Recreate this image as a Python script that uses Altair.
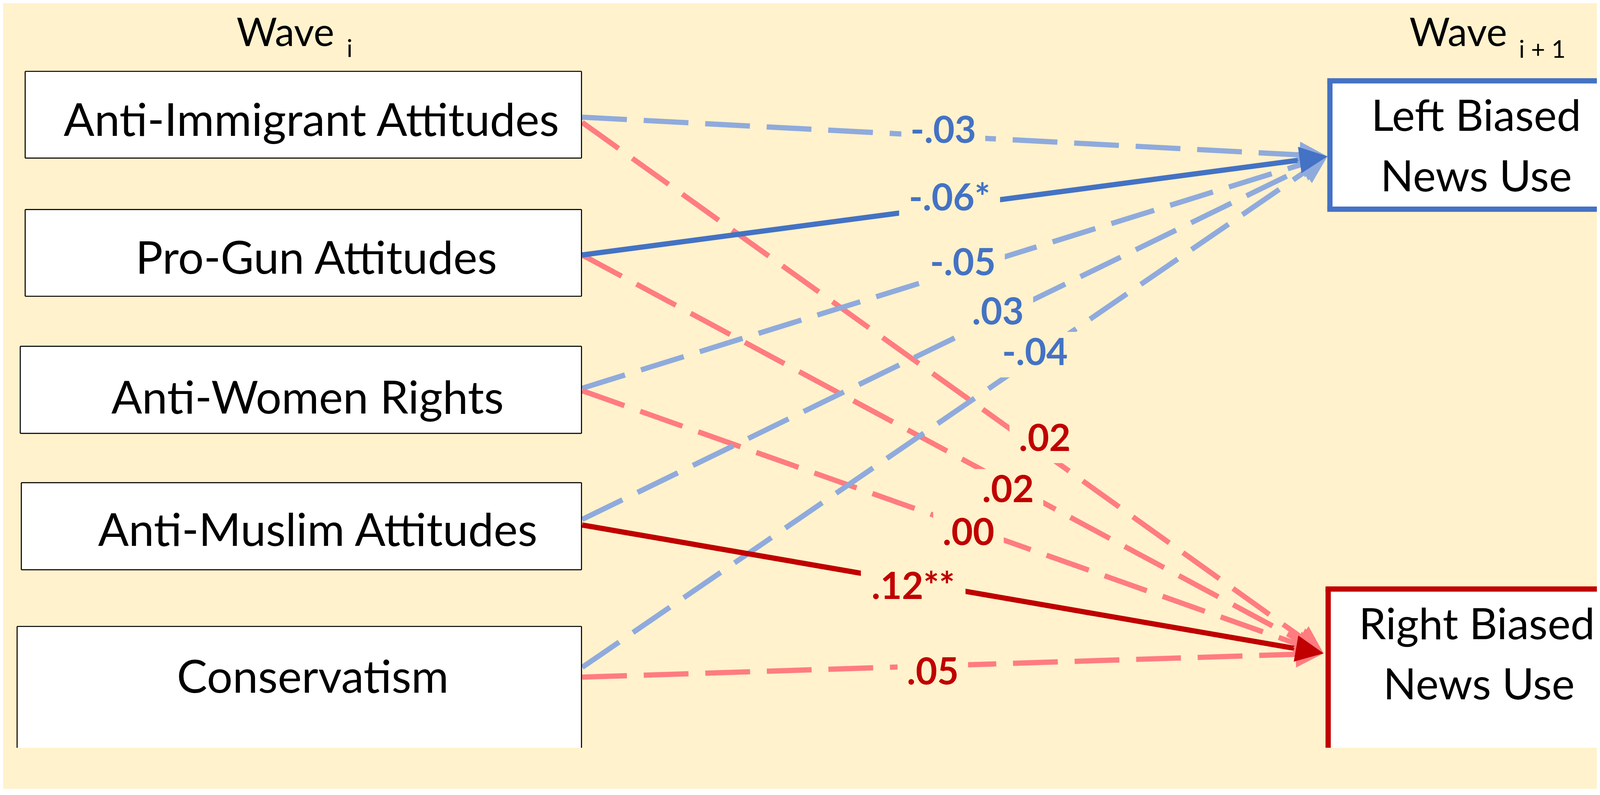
import math
import altair as alt
import pandas as pd

# ---------------- data ----------------
sources = ["Anti-Immigrant Attitudes", "Pro-Gun Attitudes", "Anti-Women Rights",
           "Anti-Muslim Attitudes", "Conservatism"]
target_lines = [["Left Biased", "News Use"], ["Right Biased", "News Use"]]
coef_to_left = ["-.03", "-.06*", "-.05", ".03", "-.04"]
coef_to_right = [".02", ".02", ".00", ".12**", ".05"]
wave_main = ["Wave", "Wave"]
wave_sub = ["i", "i + 1"]

# ---------------- layout (reference pixel coordinates) ----------------
W, H = 4555, 2012
Y0 = 130                      # top of the drawing area in layout coordinates
XMAX, YMAX = 8 + W, Y0 + H
BOTTOM = YMAX                 # boxes that run off the page continue to the bottom
src_box_x1 = [71, 71, 57, 60, 48]
src_box_x2 = 1661
src_box_y1 = [208, 603, 994, 1384, 1795]
src_box_y2 = [456, 851, 1243, 1633, None]      # last box runs off the bottom
src_text_x = [889, 903, 878, 907, 893]
src_text_base = [392, 787, 1186, 1565, 1985]
edge_x0 = 1663
anchor_left = [339, 733, 1114, 1489, 1912]
anchor_right = [354, 733, 1121, 1505, 1940]
tips = [(3793, 451), (3782, 1872)]
tgt_box = [(3800, 235, 602), (3795, 1688, None)]   # left, top, bottom (runs off right edge)
tgt_text = [[(4218, 378), (4218, 551)], [(4220, 1832), (4226, 2004)]]
lab_left = [(2695, 375), (2713, 568), (2751, 753), (2851, 894), (2957, 1010)]
lab_right = [(2985, 1255), (2880, 1402), (2767, 1525), (2609, 1679), (2665, 1923)]

BG = "#FFF2CC"
BLUE, BLUE_L = "#4472C4", "#8FAADC"
RED, RED_L = "#C00000", "#FF7C80"
FONT = "Lato"
LAB_FS = 106
NODE_FS = 130
TGT_FS = 124
char_w = {"-": 0.36, ".": 0.27, "*": 0.46}

def text_w(s):
    return sum(char_w.get(ch, 0.58) for ch in s) * LAB_FS

rows = []
for i in range(len(sources)):
    for j, (coefs, anchors, labs) in enumerate(
            [(coef_to_left, anchor_left, lab_left), (coef_to_right, anchor_right, lab_right)]):
        c = coefs[i]
        sig = "*" in c
        x1, y1 = edge_x0, anchors[i]
        tx, ty = tips[j]
        dx, dy = tx - x1, ty - y1
        L = math.hypot(dx, dy)
        ux, uy = dx / L, dy / L
        lx, ly = labs[i]
        w = text_w(c) + 50
        if j == 0:
            col = BLUE if sig else BLUE_L
            tcol = BLUE
        else:
            col = RED if sig else RED_L
            tcol = RED
        rows.append(dict(x=x1, y=y1, x2=tx - 40 * ux, y2=ty - 40 * uy, tipx=tx, tipy=ty,
                         ang=(math.degrees(math.atan2(dy, dx)) + 360) % 360,
                         col=col, tcol=tcol, sig=int(sig), label=c,
                         lx=lx, ly=ly + 38, mx1=lx - w / 2, mx2=lx + w / 2,
                         my1=ly - 57, my2=ly + 73))
edges = pd.DataFrame(rows).sort_values("sig", kind="stable").reset_index(drop=True)

fills, borders = [], []
for i in range(len(sources)):
    x1, x2, y1 = src_box_x1[i], src_box_x2, src_box_y1[i]
    y2 = src_box_y2[i] if src_box_y2[i] is not None else BOTTOM
    fills.append(dict(x1=x1, x2=x2, y1=y1, y2=y2))
    segs = [(x1, y1, x2, y1), (x1, y1, x1, y2), (x2, y1, x2, y2)]
    if src_box_y2[i] is not None:
        segs.append((x1, y2, x2, y2))
    for s in segs:
        borders.append(dict(x1=s[0], y1=s[1], x2=s[2], y2=s[3], col="black", w=3))
for k, (bx, by1, by2) in enumerate(tgt_box):
    col = BLUE if k == 0 else RED
    y2 = by2 if by2 is not None else BOTTOM
    fills.append(dict(x1=bx, x2=XMAX, y1=by1, y2=y2))
    segs = [(bx - 7.5, by1, XMAX, by1), (bx, by1, bx, y2)]
    if by2 is not None:
        segs.append((bx - 7.5, by2, XMAX, by2))
    for s in segs:
        borders.append(dict(x1=s[0], y1=s[1], x2=s[2], y2=s[3], col=col, w=15))
fill_df = pd.DataFrame(fills)
border_df = pd.DataFrame(borders)

src_df = pd.DataFrame(dict(name=sources, tx=src_text_x, ty=src_text_base))
tgt_txt = pd.DataFrame([dict(t=target_lines[k][m], x=tgt_text[k][m][0], y=tgt_text[k][m][1])
                        for k in range(2) for m in range(2)])
wave_df = pd.DataFrame([
    dict(t=wave_main[0], x=675, y=136, fs=112),
    dict(t=wave_sub[0], x=990, y=167, fs=70),
    dict(t=wave_main[1], x=4027, y=136, fs=112),
    dict(t=wave_sub[1], x=4340, y=169, fs=70),
])

xs = alt.Scale(domain=[8, XMAX], nice=False, zero=False)
ys = alt.Scale(domain=[Y0, YMAX], nice=False, zero=False, reverse=True)

def X(f):
    return alt.X(f, type="quantitative", scale=xs, axis=None)

def Y(f):
    return alt.Y(f, type="quantitative", scale=ys, axis=None)

base_e = alt.Chart(edges)

dashed = base_e.transform_filter("datum.sig == 0").mark_rule(
    strokeWidth=15, strokeDash=[128, 48], strokeCap="butt").encode(
    x=X("x"), y=Y("y"), x2="x2:Q", y2="y2:Q", color=alt.Color("col:N", scale=None))
solid = base_e.transform_filter("datum.sig == 1").mark_rule(
    strokeWidth=15, strokeCap="butt").encode(
    x=X("x"), y=Y("y"), x2="x2:Q", y2="y2:Q", color=alt.Color("col:N", scale=None))
heads = base_e.mark_point(filled=True, shape="M0,0L-2,-0.95L-2,0.95Z", size=6400,
                          opacity=1, strokeWidth=0).encode(
    x=X("tipx"), y=Y("tipy"), angle=alt.Angle("ang:Q", scale=None),
    color=alt.Color("col:N", scale=None))
masks = base_e.mark_rect(color=BG).encode(x=X("mx1"), x2="mx2:Q", y=Y("my1"), y2="my2:Q")
labels = base_e.mark_text(font=FONT, fontWeight="bold", fontSize=LAB_FS, align="center",
                          baseline="alphabetic").encode(
    x=X("lx"), y=Y("ly"), text="label:N", color=alt.Color("tcol:N", scale=None))

box_fill = alt.Chart(fill_df).mark_rect(fill="white").encode(
    x=X("x1"), x2="x2:Q", y=Y("y1"), y2="y2:Q")
box_border = alt.Chart(border_df).mark_rule(strokeCap="butt").encode(
    x=X("x1"), x2="x2:Q", y=Y("y1"), y2="y2:Q",
    color=alt.Color("col:N", scale=None), strokeWidth=alt.StrokeWidth("w:Q", scale=None))
src_text = alt.Chart(src_df).mark_text(font=FONT, fontSize=NODE_FS, align="center",
                                       baseline="alphabetic", color="black").encode(
    x=X("tx"), y=Y("ty"), text="name:N")
tgt_text_l = alt.Chart(tgt_txt).mark_text(font=FONT, fontSize=TGT_FS, align="center",
                                          baseline="alphabetic", color="black").encode(
    x=X("x"), y=Y("y"), text="t:N")
waves = alt.Chart(wave_df).mark_text(font=FONT, align="left", baseline="alphabetic",
                                     color="black").encode(
    x=X("x"), y=Y("y"), text="t:N", size=alt.Size("fs:Q", scale=None))

chart = alt.layer(dashed, solid, masks, heads, labels, box_fill, box_border, src_text,
                  tgt_text_l, waves).properties(
    width=W, height=H, background=BG, padding=0,
    autosize=alt.AutoSizeParams(type="none")).configure_view(stroke=None)

chart.save("out.html", embed_options={"renderer": "svg", "actions": False})
